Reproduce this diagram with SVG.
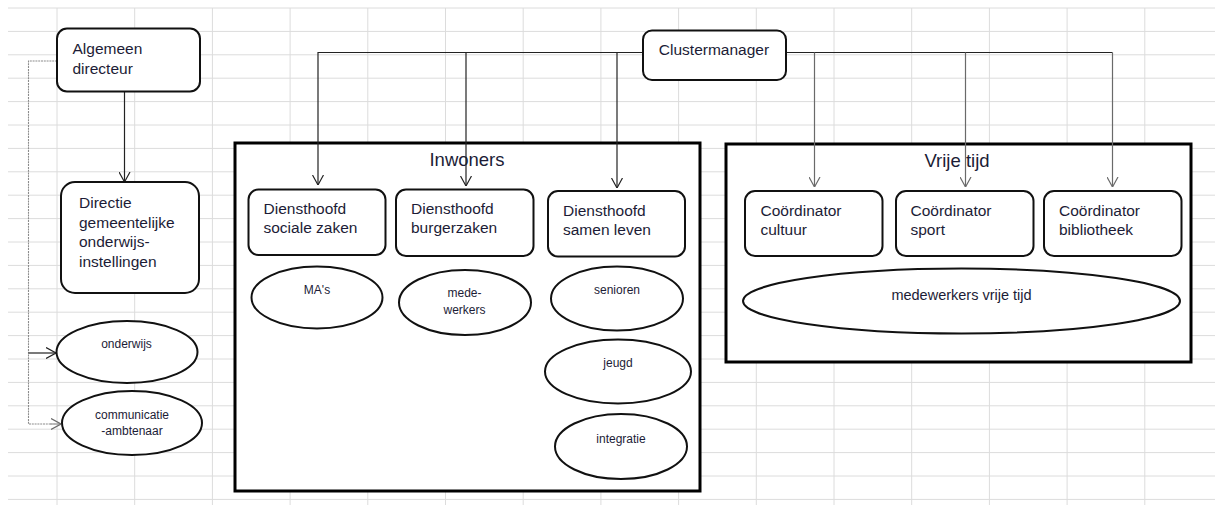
<svg xmlns="http://www.w3.org/2000/svg" width="1215" height="505" viewBox="0 0 1215 505">
<style>
.grid line{stroke:#dcdcdc;stroke-width:1}
.box{fill:#fff;stroke:#111;stroke-width:2}
.cont{fill:#fff;stroke:#000;stroke-width:3}
.ell{fill:#fff;stroke:#111;stroke-width:2}
text{font-family:"Liberation Sans",Arial,sans-serif;fill:#1c1c36}
.t{font-size:15.5px}
.s{font-size:12px;text-anchor:middle}
.h{font-size:18.5px;text-anchor:middle}
.c{fill:none;stroke:#222;stroke-width:1.2}
.cg{fill:none;stroke:#6a6a6a;stroke-width:1.2}
.cd{fill:none;stroke:#8c8c8c;stroke-width:1.1;stroke-dasharray:2 0.8}
</style>
<defs>
<marker id="arr" viewBox="0 0 10 12" refX="10" refY="6" markerWidth="10" markerHeight="12" markerUnits="userSpaceOnUse" orient="auto">
<path d="M0,0.5 L10,6 L0,11.5" fill="none" stroke="#222" stroke-width="1.2"/>
</marker>
<marker id="arrg" viewBox="0 0 10 12" refX="10" refY="6" markerWidth="10" markerHeight="12" markerUnits="userSpaceOnUse" orient="auto">
<path d="M0,0.5 L10,6 L0,11.5" fill="none" stroke="#6a6a6a" stroke-width="1.2"/>
</marker>
</defs>
<rect width="1215" height="505" fill="#fff"/>
<g class="grid">
<line x1="8" y1="8" x2="1215" y2="8"/>
<line x1="8" y1="31.4" x2="1215" y2="31.4"/>
<line x1="8" y1="54.8" x2="1215" y2="54.8"/>
<line x1="8" y1="78.2" x2="1215" y2="78.2"/>
<line x1="8" y1="101.6" x2="1215" y2="101.6"/>
<line x1="8" y1="125" x2="1215" y2="125"/>
<line x1="8" y1="148.4" x2="1215" y2="148.4"/>
<line x1="8" y1="171.8" x2="1215" y2="171.8"/>
<line x1="8" y1="195.2" x2="1215" y2="195.2"/>
<line x1="8" y1="218.6" x2="1215" y2="218.6"/>
<line x1="8" y1="242" x2="1215" y2="242"/>
<line x1="8" y1="265.4" x2="1215" y2="265.4"/>
<line x1="8" y1="288.8" x2="1215" y2="288.8"/>
<line x1="8" y1="312.2" x2="1215" y2="312.2"/>
<line x1="8" y1="335.6" x2="1215" y2="335.6"/>
<line x1="8" y1="359" x2="1215" y2="359"/>
<line x1="8" y1="382.4" x2="1215" y2="382.4"/>
<line x1="8" y1="405.8" x2="1215" y2="405.8"/>
<line x1="8" y1="429.2" x2="1215" y2="429.2"/>
<line x1="8" y1="452.6" x2="1215" y2="452.6"/>
<line x1="8" y1="476" x2="1215" y2="476"/>
<line x1="8" y1="499.4" x2="1215" y2="499.4"/>
<line x1="57" y1="8" x2="57" y2="505"/>
<line x1="134.7" y1="8" x2="134.7" y2="505"/>
<line x1="212.4" y1="8" x2="212.4" y2="505"/>
<line x1="290.1" y1="8" x2="290.1" y2="505"/>
<line x1="367.8" y1="8" x2="367.8" y2="505"/>
<line x1="445.5" y1="8" x2="445.5" y2="505"/>
<line x1="523.2" y1="8" x2="523.2" y2="505"/>
<line x1="600.9" y1="8" x2="600.9" y2="505"/>
<line x1="678.6" y1="8" x2="678.6" y2="505"/>
<line x1="756.3" y1="8" x2="756.3" y2="505"/>
<line x1="834" y1="8" x2="834" y2="505"/>
<line x1="911.7" y1="8" x2="911.7" y2="505"/>
<line x1="989.4" y1="8" x2="989.4" y2="505"/>
<line x1="1067.1" y1="8" x2="1067.1" y2="505"/>
<line x1="1144.8" y1="8" x2="1144.8" y2="505"/>
</g>
<g id="inwoners">
<rect class="cont" x="235" y="143" width="465" height="348"/>
<text class="h" x="467" y="166">Inwoners</text>
</g>
<g id="vrije-tijd">
<rect class="cont" x="726" y="144" width="465" height="218"/>
<text class="h" x="957" y="167">Vrije tijd</text>
</g>
<g id="connectors">
<line class="c" x1="124.5" y1="92" x2="124.5" y2="182" marker-end="url(#arr)"/>
<path class="cd" d="M57,61 H28.5 V424 H61"/>
<path class="c" d="M28.5,353 H56" marker-end="url(#arr)"/>
<path class="cd" d="M50,424 H61" marker-end="url(#arrg)"/>
<path class="c" d="M643,52.5 H318 V185" marker-end="url(#arr)"/>
<line class="c" x1="466" y1="52.5" x2="466" y2="186" marker-end="url(#arr)"/>
<line class="c" x1="617" y1="52.5" x2="617" y2="188" marker-end="url(#arr)"/>
<line class="c" x1="786" y1="52.5" x2="1112.5" y2="52.5"/>
<line class="cg" x1="814.5" y1="52.5" x2="814.5" y2="187" marker-end="url(#arrg)"/>
<line class="cg" x1="965.5" y1="52.5" x2="965.5" y2="187" marker-end="url(#arrg)"/>
<line class="cg" x1="1112.5" y1="52.5" x2="1112.5" y2="187" marker-end="url(#arrg)"/>
</g>
<g id="algemeen-directeur">
<rect class="box" x="57" y="28.5" width="143" height="63" rx="10"/>
<text class="t" x="72.5" y="54">Algemeen</text>
<text class="t" x="72.5" y="73.5">directeur</text>
</g>
<g id="directie">
<rect class="box" x="61" y="182" width="138" height="111" rx="14"/>
<text class="t" x="79" y="208">Directie</text>
<text class="t" x="79" y="227.5">gemeentelijke</text>
<text class="t" x="79" y="247">onderwijs-</text>
<text class="t" x="79" y="266.5">instellingen</text>
</g>
<g id="onderwijs">
<ellipse class="ell" cx="127" cy="352" rx="70.5" ry="31"/>
<text class="s" x="126.5" y="348">onderwijs</text>
</g>
<g id="communicatie">
<ellipse class="ell" cx="132" cy="423" rx="70" ry="32"/>
<text class="s" x="132" y="419">communicatie</text>
<text class="s" x="132" y="435">-ambtenaar</text>
</g>
<g id="clustermanager">
<rect class="box" x="643" y="30.5" width="143" height="49.5" rx="9"/>
<text class="t" x="714" y="55" text-anchor="middle">Clustermanager</text>
</g>
<g id="dh-sociale-zaken">
<rect class="box" x="248.5" y="189.5" width="137" height="65.5" rx="10"/>
<text class="t" x="263.5" y="214">Diensthoofd</text>
<text class="t" x="263.5" y="233">sociale zaken</text>
</g>
<g id="dh-burgerzaken">
<rect class="box" x="396" y="189.5" width="137.5" height="66.5" rx="10"/>
<text class="t" x="411" y="214">Diensthoofd</text>
<text class="t" x="411" y="233">burgerzaken</text>
</g>
<g id="dh-samen-leven">
<rect class="box" x="548" y="191" width="137" height="65.5" rx="10"/>
<text class="t" x="563" y="216">Diensthoofd</text>
<text class="t" x="563" y="235">samen leven</text>
</g>
<g id="mas">
<ellipse class="ell" cx="317" cy="297.5" rx="65.5" ry="31"/>
<text class="s" x="317" y="294">MA's</text>
</g>
<g id="medewerkers">
<ellipse class="ell" cx="465" cy="302.5" rx="66" ry="32.5"/>
<text class="s" x="464.5" y="297">mede-</text>
<text class="s" x="464.5" y="314">werkers</text>
</g>
<g id="senioren">
<ellipse class="ell" cx="617" cy="298.5" rx="66" ry="32"/>
<text class="s" x="617" y="294">senioren</text>
</g>
<g id="jeugd">
<ellipse class="ell" cx="618" cy="371.5" rx="73" ry="32"/>
<text class="s" x="618" y="367">jeugd</text>
</g>
<g id="integratie">
<ellipse class="ell" cx="621" cy="446.5" rx="66" ry="32.5"/>
<text class="s" x="621" y="442.5">integratie</text>
</g>
<g id="co-cultuur">
<rect class="box" x="745" y="191" width="137.5" height="65" rx="10"/>
<text class="t" x="760.5" y="216">Coördinator</text>
<text class="t" x="760.5" y="235">cultuur</text>
</g>
<g id="co-sport">
<rect class="box" x="896" y="191" width="137.5" height="65" rx="10"/>
<text class="t" x="910.5" y="216">Coördinator</text>
<text class="t" x="910.5" y="235">sport</text>
</g>
<g id="co-bibliotheek">
<rect class="box" x="1044" y="191" width="137.5" height="65" rx="10"/>
<text class="t" x="1059" y="216">Coördinator</text>
<text class="t" x="1059" y="235">bibliotheek</text>
</g>
<g id="medewerkers-vrije-tijd">
<ellipse class="ell" cx="961.5" cy="301" rx="218.5" ry="32.5"/>
<text class="s" x="961.5" y="300" style="font-size:14.5px">medewerkers vrije tijd</text>
</g>
</svg>
